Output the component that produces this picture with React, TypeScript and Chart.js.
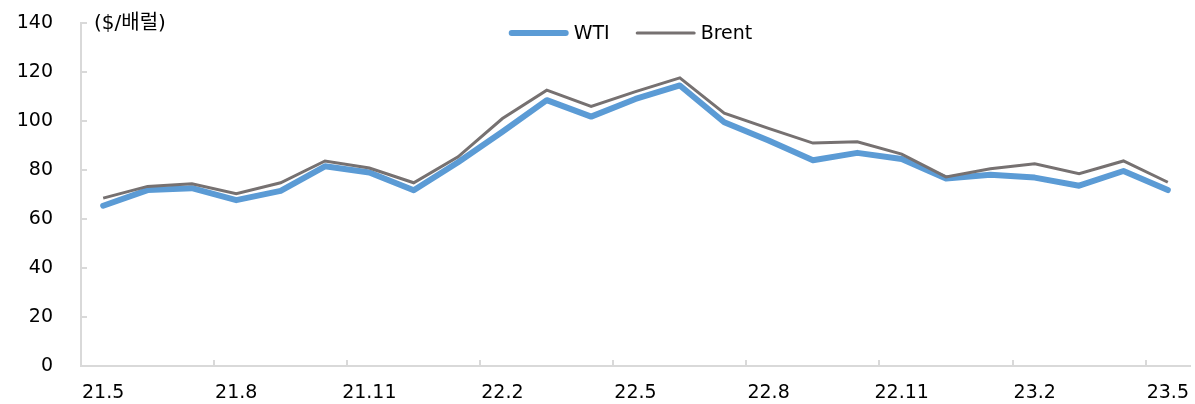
import React, { useEffect, useRef } from "react";
import { Chart, registerables } from "chart.js";

Chart.register(...registerables);

const months = [
  "21.5", "21.6", "21.7", "21.8", "21.9", "21.10", "21.11", "21.12",
  "22.1", "22.2", "22.3", "22.4", "22.5", "22.6", "22.7", "22.8",
  "22.9", "22.10", "22.11", "22.12", "23.1", "23.2", "23.3", "23.4", "23.5",
];
const wti = [
  65.4, 71.8, 72.6, 67.7, 71.5, 81.5, 79.0, 71.7, 83.2, 95.6, 108.5, 101.8,
  109.0, 114.5, 99.5, 92.0, 84.0, 87.0, 84.5, 76.5, 78.1, 76.9, 73.6, 79.6, 71.8,
];
const brent = [
  68.5, 73.3, 74.4, 70.3, 74.8, 83.7, 80.8, 74.8, 85.4, 101.0, 112.6, 106.0,
  112.0, 117.6, 103.2, 97.0, 91.0, 91.5, 86.5, 77.2, 80.5, 82.5, 78.5, 83.7, 75.0,
];
const unitLabel = "($/배럴)";
const FONT = '"DejaVu Sans", "Noto Sans CJK KR", sans-serif';
const FS = 19;

export default function App() {
  const ref = useRef<HTMLCanvasElement | null>(null);
  useEffect(() => {
    if (!ref.current) return;
    const axisColor = "#d9d9d9";
    const deco = {
      id: "deco",
      afterDraw(chart: any) {
        const ctx = chart.ctx;
        const x = chart.scales.x;
        const y = chart.scales.y;
        const area = chart.chartArea;
        ctx.save();
        ctx.strokeStyle = axisColor;
        ctx.lineWidth = 2;
        y.ticks.forEach((t: any) => {
          const py = Math.round(y.getPixelForValue(t.value));
          ctx.beginPath();
          ctx.moveTo(area.left, py);
          ctx.lineTo(area.left + 6, py);
          ctx.stroke();
        });
        for (let i = 3; i < months.length; i += 3) {
          const px = Math.round((x.getPixelForValue(i - 1) + x.getPixelForValue(i)) / 2);
          ctx.beginPath();
          ctx.moveTo(px, area.bottom);
          ctx.lineTo(px, area.bottom - 6);
          ctx.stroke();
        }
        ctx.fillStyle = "#000";
        ctx.textBaseline = "middle";
        ctx.textAlign = "left";
        ctx.font = `20px ${FONT}`;
        ctx.fillText(unitLabel, area.left + 13, area.top + 1);
        ctx.font = `${FS}px ${FONT}`;
        const ds = chart.data.datasets;
        const items = [0, 1].map((i) => ({
          label: ds[i].label,
          color: ds[i].borderColor,
          w: ds[i].borderWidth,
          tw: ctx.measureText(ds[i].label).width,
        }));
        const lineLen = 60;
        const gap = 5;
        const between = 26;
        const total = items.reduce((s, it) => s + lineLen + gap + it.tw, 0) + between;
        let lx = (area.left + area.right) / 2 - total / 2 - 5;
        const ly = 33;
        items.forEach((it) => {
          ctx.strokeStyle = it.color;
          ctx.lineWidth = it.w;
          ctx.lineCap = "round";
          ctx.beginPath();
          ctx.moveTo(lx + it.w / 2, ly);
          ctx.lineTo(lx + lineLen - it.w / 2, ly);
          ctx.stroke();
          ctx.fillStyle = "#000";
          ctx.fillText(it.label, lx + lineLen + gap, ly + 1);
          lx += lineLen + gap + it.tw + between;
        });
        ctx.restore();
      },
    };
    const chart = new Chart(ref.current, {
      type: "line",
      data: {
        labels: months,
        datasets: [
          {
            label: "WTI",
            data: wti,
            borderColor: "#5b9bd5",
            borderWidth: 6,
            pointRadius: 0,
            tension: 0,
            order: 1,
            borderJoinStyle: "round",
            borderCapStyle: "round",
          },
          {
            label: "Brent",
            data: brent,
            borderColor: "#767171",
            borderWidth: 3,
            pointRadius: 0,
            tension: 0,
            order: 0,
          },
        ],
      },
      options: {
        animation: false,
        responsive: false,
        layout: { padding: { top: 23, right: 5, bottom: 0, left: 0 } },
        plugins: { legend: { display: false }, tooltip: { enabled: false } },
        scales: {
          x: {
            offset: true,
            grid: { display: false, drawTicks: false },
            border: { display: true, color: axisColor, width: 2 },
            ticks: {
              autoSkip: false,
              maxRotation: 0,
              padding: 16,
              color: "#000",
              font: { family: FONT, size: FS },
              callback: (_v: any, i: number) => (i % 3 === 0 ? months[i] : ""),
            },
            afterFit: (s: any) => {
              s.height = 38;
              s.paddingLeft = 0;
              s.paddingRight = 0;
            },
          },
          y: {
            min: 0,
            max: 140,
            grid: { display: false, drawTicks: false },
            border: { display: true, color: axisColor, width: 2 },
            ticks: {
              stepSize: 20,
              padding: 28,
              color: "#000",
              font: { family: FONT, size: FS },
            },
            afterFit: (s: any) => {
              s.width = 81;
              s.paddingTop = 0;
              s.paddingBottom = 0;
            },
          },
        },
      },
      plugins: [deco],
    });
    return () => chart.destroy();
  }, []);
  return (
    <div style={{ position: "fixed", left: 0, top: 0, width: 1195, height: 404, background: "#fff" }}>
      <canvas ref={ref} width={1195} height={404} style={{ display: "block" }} />
    </div>
  );
}
